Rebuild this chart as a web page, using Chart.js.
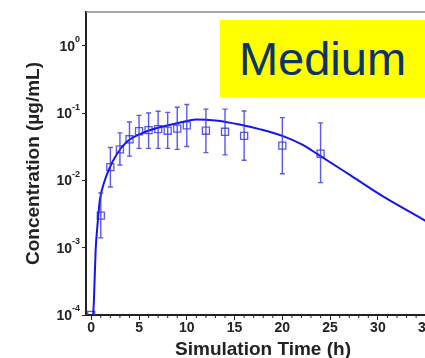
<!DOCTYPE html>
<html lang="en">
<head>
    <meta charset="UTF-8">
    <title>Concentration vs Simulation Time</title>
    <script src="https://cdn.jsdelivr.net/npm/chart.js"></script>
    <style>
        body { margin: 0; background: #fff; }
        #wrap { position: relative; width: 425px; height: 358px; overflow: hidden; }
        #tag {
            position: absolute; left: 220px; top: 20px; width: 205px; height: 77px;
            background: #ffff00; color: #0d3466;
            font: 47px "Liberation Sans", Arial, sans-serif;
            display: flex; align-items: center; justify-content: center;
        }
    </style>
</head>
<body>
    <div id="wrap">
        <!-- canvas is wider than the window so the plot runs off the right edge -->
        <canvas id="pkChart" width="460" height="358"></canvas>
        <div id="tag">Medium</div>
    </div>

    <script>
        // simulated curve (h, ug/mL)
        const simTime = [0.2, 0.28, 0.46, 0.63, 0.9, 1.32, 1.84, 2.7, 3.75, 5.1, 7.2, 9.2, 11.0, 13.0, 15.5, 17.6, 20.0, 22.1, 23.8, 27.3, 30.8, 34.8, 37];
        const simConc = [0.0001, 0.000166, 0.00093, 0.002, 0.0051, 0.0091, 0.0145, 0.025, 0.038, 0.049, 0.062, 0.072, 0.081, 0.078, 0.068, 0.058, 0.046, 0.034, 0.024, 0.0115, 0.0055, 0.0026, 0.0017];

        // observed mean and error bar ends
        const obsTime = [0, 1, 2, 3, 4, 5, 6, 7, 8, 9, 10, 12, 14, 16, 20, 24];
        const obsConc = [0.0001, 0.003, 0.0158, 0.029, 0.041, 0.054, 0.056, 0.058, 0.055, 0.059, 0.066, 0.055, 0.053, 0.046, 0.033, 0.025];
        const obsLow  = [null, 0.0014, 0.008, 0.017, 0.023, 0.030, 0.030, 0.030, 0.030, 0.029, 0.032, 0.026, 0.024, 0.020, 0.0126, 0.0093];
        const obsHigh = [null, 0.0065, 0.031, 0.051, 0.074, 0.093, 0.101, 0.107, 0.103, 0.123, 0.135, 0.115, 0.115, 0.108, 0.086, 0.072];

        const xTicks = [0, 5, 10, 15, 20, 25, 30, 35];
        const yTicks = [0.0001, 0.001, 0.01, 0.1, 1];
        const yExp = ['-4', '-3', '-2', '-1', '0'];

        const lineBlue = '#1515f0';
        const obsBlue = 'rgba(60, 60, 230, 0.85)';
        const fam = '"Liberation Sans", Arial, sans-serif';

        const extras = {
            id: 'extras',
            afterDatasetsDraw(chart) {
                const ctx = chart.ctx;
                const x = chart.scales.x, y = chart.scales.y;
                const area = chart.chartArea;

                // error bars
                ctx.save();
                ctx.beginPath();
                ctx.rect(area.left, area.top, area.right - area.left, area.bottom - area.top);
                ctx.clip();
                ctx.strokeStyle = obsBlue;
                ctx.lineWidth = 1.4;
                obsTime.forEach((t, i) => {
                    if (obsLow[i] == null) return;
                    const px = x.getPixelForValue(t);
                    const lo = y.getPixelForValue(obsLow[i]);
                    const hi = y.getPixelForValue(obsHigh[i]);
                    ctx.beginPath();
                    ctx.moveTo(px, lo); ctx.lineTo(px, hi);
                    ctx.moveTo(px - 2.5, lo); ctx.lineTo(px + 2.5, lo);
                    ctx.moveTo(px - 2.5, hi); ctx.lineTo(px + 2.5, hi);
                    ctx.stroke();
                });
                ctx.restore();
            },
            afterDraw(chart) {
                const ctx = chart.ctx;
                const x = chart.scales.x, y = chart.scales.y;
                const area = chart.chartArea;
                ctx.save();
                // top frame line
                ctx.strokeStyle = '#888';
                ctx.lineWidth = 1.5;
                ctx.beginPath();
                ctx.moveTo(area.left, area.top);
                ctx.lineTo(chart.width, area.top);
                ctx.stroke();

                // minor x ticks
                ctx.strokeStyle = '#222';
                ctx.lineWidth = 1;
                for (let t = 1; t <= 37; t++) {
                    if (t % 5 === 0) continue;
                    const px = x.getPixelForValue(t);
                    ctx.beginPath();
                    ctx.moveTo(px, area.bottom);
                    ctx.lineTo(px, area.bottom + 3);
                    ctx.stroke();
                }

                // y labels as 10^n
                ctx.fillStyle = '#222';
                ctx.textBaseline = 'middle';
                yTicks.forEach((v, i) => {
                    const py = y.getPixelForValue(v);
                    const right = area.left - 6;
                    ctx.font = 'bold 9px ' + fam;
                    ctx.textAlign = 'right';
                    ctx.fillText(yExp[i], right, py - 6);
                    const ew = ctx.measureText(yExp[i]).width;
                    ctx.font = 'bold 14px ' + fam;
                    ctx.fillText('10', right - ew, py + 1);
                });
                ctx.restore();
            }
        };

        new Chart(document.getElementById('pkChart').getContext('2d'), {
            type: 'scatter',
            data: {
                datasets: [{
                    label: 'Simulated',
                    data: simTime.map((t, i) => ({ x: t, y: simConc[i] })),
                    showLine: true,
                    borderColor: lineBlue,
                    borderWidth: 2,
                    pointRadius: 0,
                    cubicInterpolationMode: 'monotone',
                    clip: 0
                }, {
                    label: 'Observed',
                    data: obsTime.map((t, i) => ({ x: t, y: obsConc[i] })),
                    pointStyle: 'rect',
                    pointRadius: 5,
                    pointBorderWidth: 1.3,
                    borderColor: obsBlue,
                    backgroundColor: 'rgba(0,0,0,0)',
                    clip: 0
                }]
            },
            options: {
                responsive: false,
                animation: false,
                layout: { padding: { top: 12, right: 20, left: 0, bottom: 0 } },
                plugins: { legend: { display: false }, tooltip: { enabled: false } },
                scales: {
                    x: {
                        type: 'linear',
                        min: -0.55,
                        max: 36.5,
                        afterBuildTicks: s => { s.ticks = xTicks.map(v => ({ value: v })); },
                        afterFit: s => { s.height = 43; },
                        grid: { drawOnChartArea: false, tickLength: 5, color: '#222' },
                        border: { color: '#222', width: 2 },
                        ticks: { font: { family: fam, size: 14, weight: 'bold' }, color: '#222', padding: 0, maxRotation: 0 },
                        title: {
                            display: true,
                            text: 'Simulation Time (h)',
                            font: { family: fam, size: 19, weight: 'bold' },
                            color: '#222',
                            padding: { top: 0, bottom: -3 }
                        }
                    },
                    y: {
                        type: 'logarithmic',
                        min: 0.0001,
                        max: 3.2,
                        afterBuildTicks: s => { s.ticks = yTicks.map(v => ({ value: v })); },
                        afterFit: s => { s.width = 86; },
                        grid: { drawOnChartArea: false, tickLength: 4, color: '#222' },
                        border: { color: '#222', width: 2 },
                        ticks: { callback: () => '' },
                        title: {
                            display: true,
                            text: 'Concentration (\u00b5g/mL)',
                            font: { family: fam, size: 19, weight: 'bold' },
                            color: '#222',
                            padding: { top: 22, bottom: 0 }
                        }
                    }
                }
            },
            plugins: [extras]
        });
    </script>
</body>
</html>
